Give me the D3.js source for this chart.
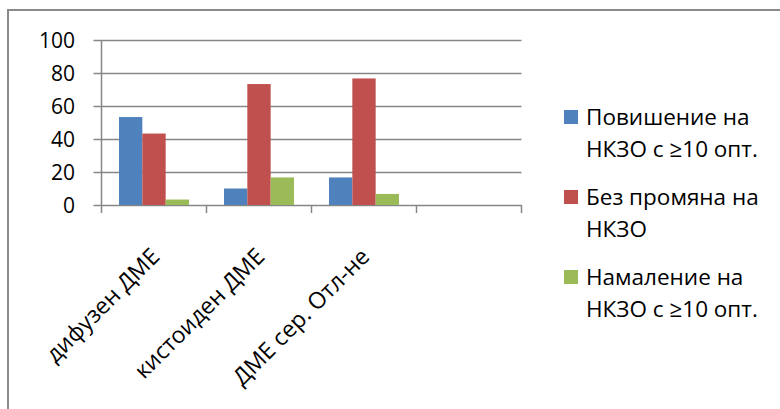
<!DOCTYPE html>
<html>
<head>
<meta charset="utf-8">
<script src="https://cdn.jsdelivr.net/npm/d3@7"></script>
<style>
  html, body { margin: 0; padding: 0; background: #fff; }
  svg { display: block; }
  text { font-family: "Open Sans", "Noto Sans", sans-serif; fill: #000; }
</style>
</head>
<body>
<svg id="chart" width="780" height="409"></svg>
<script>
const categories = ["дифузен ДМЕ", "кистоиден ДМЕ", "ДМЕ сер. Отл-не", ""];
const seriesNames = [
  ["Повишение на", "НКЗО с ≥10 опт."],
  ["Без промяна на", "НКЗО"],
  ["Намаление на", "НКЗО с ≥10 опт."]
];
const seriesColors = ["#4f81bd", "#c0504d", "#9bbb59"];
const increased = [53.3, 10, 16.7, null];
const unchanged = [43.3, 73.3, 76.7, null];
const decreased = [3.3, 16.7, 6.7, null];
const yTicks = [0, 20, 40, 60, 80, 100];

const series = [increased, unchanged, decreased];

const svg = d3.select("#chart");
const plotL = 101.5, plotR = 521.5, plotT = 40, plotB = 205;

// outer chart border
svg.append("rect")
  .attr("x", 8).attr("y", 10)
  .attr("width", 800).attr("height", 420)
  .attr("fill", "none").attr("stroke", "#8a8a8a").attr("stroke-width", 2);

const x = d3.scaleBand().domain(d3.range(categories.length)).range([plotL, plotR]).padding(0);
const x1 = d3.scaleBand().domain(d3.range(series.length)).range([0, x.bandwidth()])
  .paddingInner(0).paddingOuter(0.75);
const y = d3.scaleLinear().domain([0, 100]).range([plotB, plotT]);

const grid = "#878787";

// gridlines + y tick marks
svg.append("g").selectAll("line").data(yTicks).join("line")
  .attr("x1", plotL - 8).attr("x2", plotR)
  .attr("y1", d => Math.round(y(d)) + 0.5).attr("y2", d => Math.round(y(d)) + 0.5)
  .attr("stroke", grid).attr("stroke-width", 1.5);

// y axis line
svg.append("line")
  .attr("x1", plotL).attr("x2", plotL)
  .attr("y1", plotT).attr("y2", plotB + 8)
  .attr("stroke", grid).attr("stroke-width", 1.5);

// category tick marks
const bounds = d3.range(categories.length + 1).map(i => i < categories.length ? x(i) : x(i - 1) + x.bandwidth());
svg.append("g").selectAll("line").data(bounds.slice(1)).join("line")
  .attr("x1", d => d).attr("x2", d => d)
  .attr("y1", plotB).attr("y2", plotB + 8)
  .attr("stroke", grid).attr("stroke-width", 1.5);

// y labels
svg.append("g").selectAll("text").data(yTicks).join("text")
  .attr("x", 75).attr("y", d => y(d))
  .attr("dy", "0.36em")
  .attr("text-anchor", "end")
  .attr("font-size", 21)
  .text(d => d);

// bars
series.forEach((vals, si) => {
  svg.append("g").selectAll("rect")
    .data(vals.map((v, ci) => ({ v, ci })).filter(d => d.v != null))
    .join("rect")
    .attr("x", d => x(d.ci) + x1(si))
    .attr("width", x1.bandwidth())
    .attr("y", d => y(d.v))
    .attr("height", d => y(0) - y(d.v))
    .attr("fill", seriesColors[si]);
});

// x labels
svg.append("g").selectAll("text").data(categories).join("text")
  .attr("transform", (d, i) => `translate(${x(i) + x.bandwidth() / 2 + 7},${258}) rotate(-45)`)
  .attr("text-anchor", "end")
  .attr("font-size", 23)
  .text(d => d);

// legend
const leg = svg.append("g");
seriesNames.forEach((lines, i) => {
  const gy = 110 + i * 80;
  leg.append("rect").attr("x", 564).attr("y", gy).attr("width", 14).attr("height", 14)
    .attr("fill", seriesColors[i]);
  const t = leg.append("text").attr("font-size", 22.5);
  lines.forEach((ln, j) => {
    t.append("tspan").attr("x", 586).attr("y", gy + 15 + j * 32).text(ln);
  });
});
</script>
</body>
</html>
